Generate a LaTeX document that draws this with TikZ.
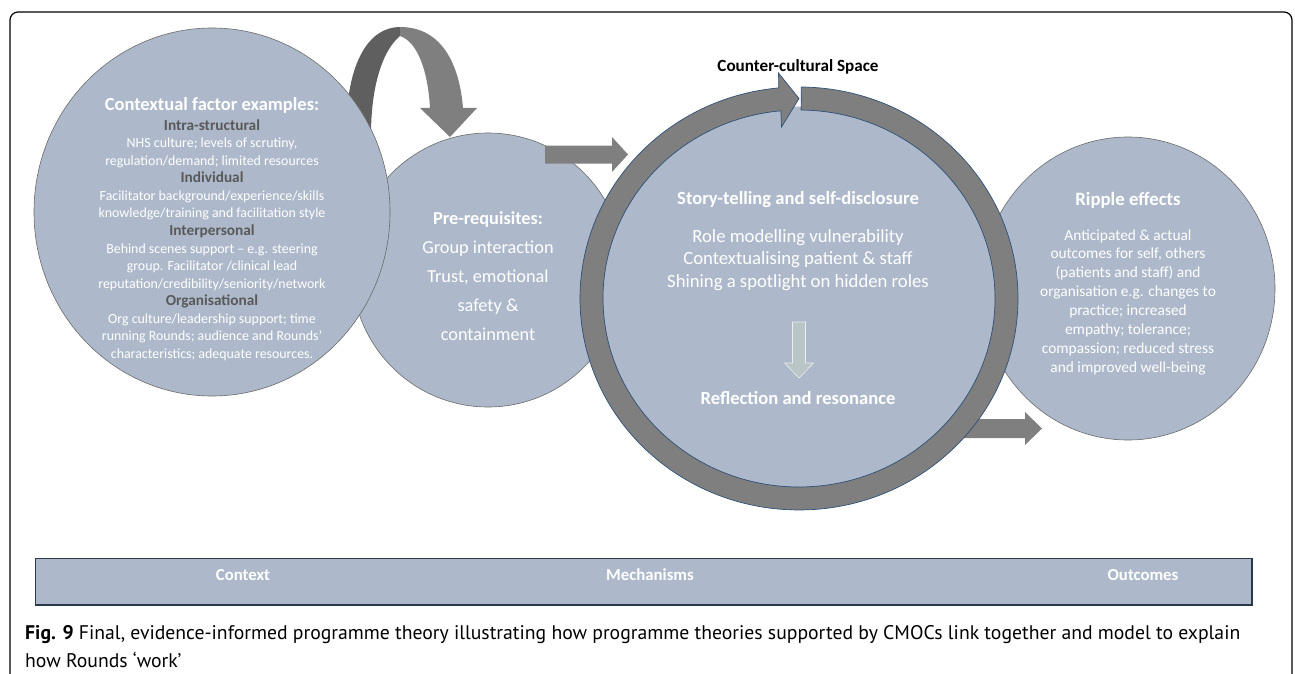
\documentclass[tikz,border=0pt]{standalone}
\usepackage{fontspec}
\setmainfont{Carlito}
\newfontfamily\capfont{PT Sans}
\usetikzlibrary{shapes.geometric}
\definecolor{cfill}{HTML}{ADB9CA}
\definecolor{arrgray}{HTML}{7F7F7F}
\definecolor{darkarr}{HTML}{5F5F5F}
\definecolor{subgray}{HTML}{595959}
\definecolor{ringedge}{HTML}{2F5077}
\definecolor{circedge}{HTML}{6A6A6A}
\definecolor{downfill}{HTML}{B9C5C7}
\definecolor{baredge}{HTML}{2B3A4A}
\tikzset{
  circ/.style={ellipse, fill=cfill, draw=circedge, line width=0.6pt, inner sep=0pt},
  blockarrow/.style={fill=arrgray},
  wtext/.style={text=white, align=center, inner sep=0pt},
  head/.style={wtext, font=\bfseries\fontsize{18.6}{22}\selectfont},
  bartext/.style={text=white, font=\bfseries\fontsize{16.8}{19}\selectfont, inner sep=0pt}
}
\begin{document}
\begin{tikzpicture}[x=1pt,y=-1pt]
\useasboundingbox (0,0) rectangle (1295,674);
% frame
\draw[line width=1.2pt, rounded corners=8pt] (10,720) -- (10,12) -- (1292,12) -- (1292,720);

% curved arrow (context -> pre-requisites)
\fill[darkarr] (346,135) .. controls (346,60) and (370,27) .. (400,27) -- (400,36) .. controls (383,50) and (371,85) .. (371,135) -- cycle;
\fill[arrgray] (400,27) .. controls (445,27) and (460,70) .. (463,108) -- (477,108) -- (450,137) -- (420,108) -- (430,108) .. controls (428,72) and (418,42) .. (400,36) -- cycle;

% pre-requisites circle
\node[circ, minimum width=272pt, minimum height=274pt] (pre) at (488,270) {};
% context ellipse
\node[circ, minimum width=356pt, minimum height=368pt] (ctx) at (212,212) {};

% arrow pre -> mechanisms
\fill[blockarrow] (545,145.5) -- (612,145.5) -- (612,137) -- (628,154.5) -- (612,172) -- (612,163.5) -- (545,163.5) -- cycle;

% ripple circle
\node[circ, minimum width=294pt, minimum height=303pt] (rip) at (1128,288.5) {};
% arrow mechanisms -> ripple
\fill[blockarrow] (960,419) -- (1025,419) -- (1025,412) -- (1042,428.5) -- (1025,445) -- (1025,438) -- (960,438) -- cycle;

% mechanism circle and ring
\node[ellipse, fill=cfill, minimum width=400pt, minimum height=384pt, inner sep=0pt] (mech) at (799,298.5) {};
\filldraw[fill=arrgray, draw=ringedge, line width=0.7pt]
  (801.3,87.0) arc[start angle=-89.4, end angle=264.7, x radius=219, y radius=211.5]
  -- (778.5,73) -- (799,98.5) -- (781.5,127) -- (780.9,110.8)
  arc[start angle=264.7, end angle=-89.4, x radius=196, y radius=188.5] -- cycle;

% down arrow inside
\filldraw[fill=downfill, draw=white!85!gray, line width=0.6pt]
  (792.5,322) -- (805.5,322) -- (805.5,363) -- (813.5,363) -- (799,378) -- (784.5,363) -- (792.5,363) -- cycle;

% texts: context
\node[head, font=\bfseries\fontsize{18.5}{22}\selectfont] (ctxhead) at (212,105) {Contextual factor examples:};
\node[wtext, font=\fontsize{13.9}{17.54}\selectfont] (ctxbody) at (212,240) {%
{\bfseries\fontsize{15.3}{17.54}\selectfont\color{subgray}Intra-structural}\\
NHS culture; levels of scrutiny,\\
regulation/demand; limited resources\\
{\bfseries\fontsize{15.3}{17.54}\selectfont\color{subgray}Individual}\\
Facilitator background/experience/skills\\
knowledge/training and facilitation style\\
{\bfseries\fontsize{15.3}{17.54}\selectfont\color{subgray}Interpersonal}\\
Behind scenes support -- e.g. steering\\
group. Facilitator /clinical lead\\
reputation/credibility/seniority/network\\
{\bfseries\fontsize{15.3}{17.54}\selectfont\color{subgray}Organisational}\\
Org culture/leadership support; time\\
running Rounds; audience and Rounds’\\
characteristics; adequate resources.};

% texts: pre-requisites
\node[wtext, font=\fontsize{18.3}{29}\selectfont] (pretext) at (488,276) {%
{\bfseries Pre-requisites:}\\
Group interaction\\
Trust, emotional\\
safety \&\\
containment};

% texts: mechanisms
\node[font=\bfseries\fontsize{17.1}{20}\selectfont, inner sep=0pt] (ccs) at (798,67) {Counter-cultural Space};
\node[head] (mhead) at (798,200) {Story-telling and self-disclosure};
\node[wtext, font=\fontsize{18.7}{22.5}\selectfont] (mbody) at (798,260) {%
Role modelling vulnerability\\
Contextualising patient \& staff\\
Shining a spotlight on hidden roles};
\node[head] (refl) at (798,398) {Reflection and resonance};

% texts: ripple
\node[head, font=\bfseries\fontsize{18.8}{22}\selectfont] (riphead) at (1128,200) {Ripple effects};
\node[wtext, font=\fontsize{15.4}{18.86}\selectfont] (ripbody) at (1128,302) {%
Anticipated \& actual\\
outcomes for self, others\\
(patients and staff) and\\
organisation e.g. changes to\\
practice; increased\\
empathy; tolerance;\\
compassion; reduced stress\\
and improved well-being};

% bottom bar
\fill[cfill] (35,558) rectangle (1252,605);
\draw[baredge, line width=0.6pt] (35,605) -- (35,558) -- (1252,558);
\draw[baredge, line width=1.4pt] (35,605) -- (1252,605) -- (1252,558);
\node[bartext] (bctx) at (243,575) {Context};
\node[bartext] (bmech) at (650,575) {Mechanisms};
\node[bartext] (bout) at (1143,575) {Outcomes};

% caption
\node[anchor=west, inner sep=0pt, font=\capfont\fontsize{19.7}{24}\selectfont] (cap1) at (25,635) {\textbf{Fig. 9} Final, evidence-informed programme theory illustrating how programme theories supported by CMOCs link together and model to explain};
\node[anchor=west, inner sep=0pt, font=\capfont\fontsize{19.7}{24}\selectfont] (cap2) at (25,660) {how Rounds ‘work’};
\end{tikzpicture}
\end{document}
